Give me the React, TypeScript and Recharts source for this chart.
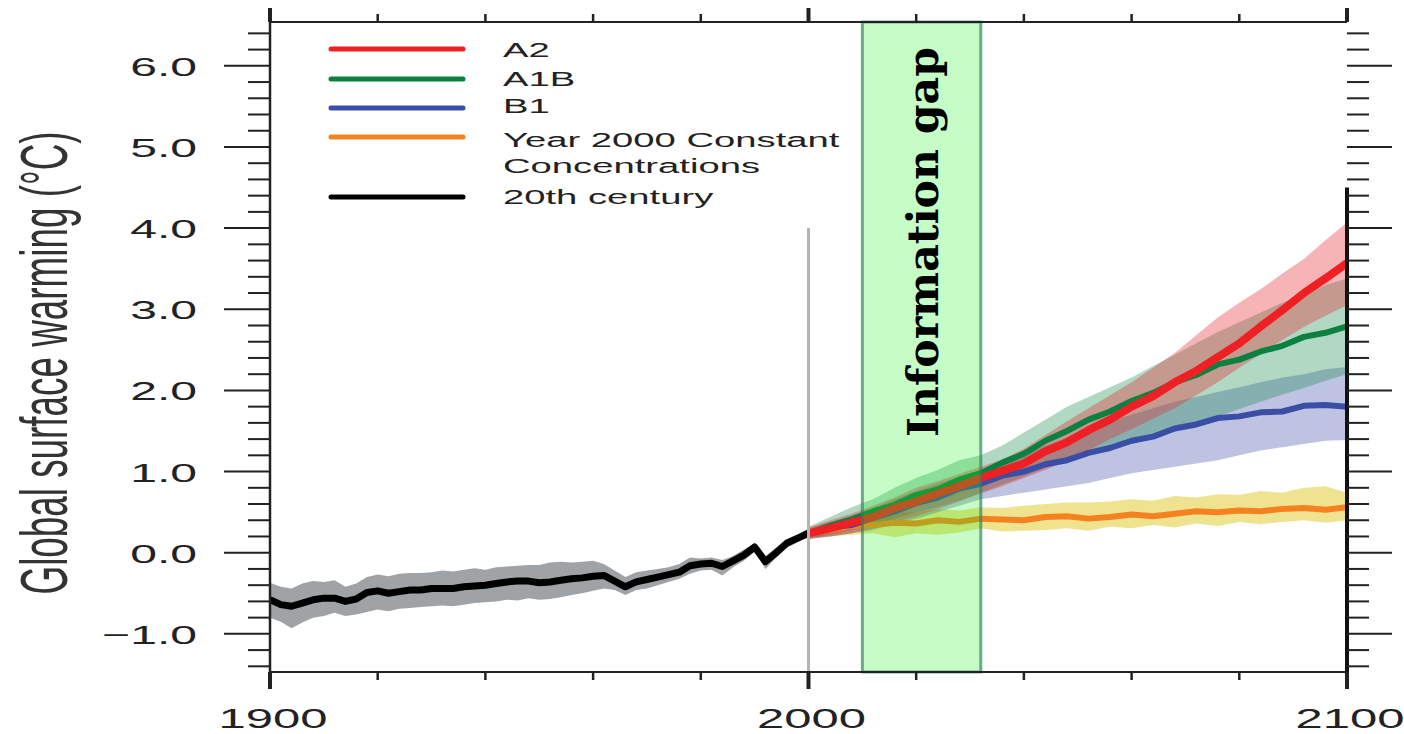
import React from "react";
import {
  ComposedChart,
  Area,
  Line,
  XAxis,
  YAxis,
  ReferenceArea,
  ReferenceLine,
  Legend,
} from "recharts";

// 20th century (observed) – every 2 years
const histYears = [
  1900, 1902, 1904, 1906, 1908, 1910, 1912, 1914, 1916, 1918,
  1920, 1922, 1924, 1926, 1928, 1930, 1932, 1934, 1936, 1938,
  1940, 1942, 1944, 1946, 1948, 1950, 1952, 1954, 1956, 1958,
  1960, 1962, 1964, 1966, 1968, 1970, 1972, 1974, 1976, 1978,
  1980, 1982, 1984, 1986, 1988, 1990, 1992, 1994, 1996, 1998,
  2000,
];
const histMean = [
  -0.58, -0.64, -0.66, -0.62, -0.58, -0.56, -0.56, -0.6, -0.57, -0.49,
  -0.47, -0.5, -0.48, -0.46, -0.46, -0.44, -0.44, -0.44, -0.42, -0.41,
  -0.4, -0.38, -0.36, -0.35, -0.35, -0.37, -0.36, -0.34, -0.32, -0.31,
  -0.29, -0.28, -0.35, -0.42, -0.36, -0.33, -0.3, -0.27, -0.24, -0.16,
  -0.14, -0.13, -0.17, -0.1, -0.03, 0.07, -0.11, 0.0, 0.12, 0.18,
  0.24,
];
const histHigh = [
  -0.37, -0.42, -0.44, -0.38, -0.35, -0.36, -0.34, -0.42, -0.38, -0.3,
  -0.27, -0.29, -0.26, -0.25, -0.25, -0.24, -0.22, -0.23, -0.21, -0.19,
  -0.21, -0.18, -0.17, -0.16, -0.15, -0.15, -0.12, -0.11, -0.12, -0.11,
  -0.1, -0.14, -0.22, -0.3, -0.24, -0.22, -0.2, -0.18, -0.14, -0.06,
  -0.07, -0.06, -0.09, -0.04, 0.04, 0.12, -0.04, 0.06, 0.16, 0.22,
  0.3,
];
const histLow = [
  -0.8, -0.85, -0.93, -0.86, -0.8, -0.78, -0.74, -0.78, -0.76, -0.73,
  -0.7, -0.72, -0.69, -0.68, -0.67, -0.66, -0.65, -0.66, -0.64, -0.62,
  -0.61, -0.6, -0.58, -0.59, -0.56, -0.58, -0.57, -0.55, -0.52, -0.5,
  -0.47, -0.44, -0.46, -0.52, -0.46, -0.44, -0.4, -0.36, -0.32, -0.26,
  -0.22, -0.21, -0.28, -0.18, -0.1, 0.01, -0.2, -0.06, 0.06, 0.13,
  0.19,
];

// scenario projections – every 4 years
const projYears = [
  2000, 2004, 2008, 2012, 2016, 2020, 2024, 2028, 2032, 2036, 2040, 2044, 2048,
  2052, 2056, 2060, 2064, 2068, 2072, 2076, 2080, 2084, 2088, 2092, 2096, 2100,
];
const a2Mean = [
  0.24, 0.3, 0.37, 0.44, 0.55, 0.63, 0.73, 0.82, 0.92, 1.01, 1.1, 1.25, 1.36,
  1.51, 1.64, 1.8, 1.93, 2.1, 2.24, 2.41, 2.58, 2.79, 2.99, 3.2, 3.38, 3.57,
];
const a2Low = [
  0.17, 0.2, 0.24, 0.3, 0.38, 0.45, 0.54, 0.63, 0.73, 0.82, 0.92, 1.02, 1.13,
  1.26, 1.4, 1.52, 1.65, 1.78, 1.94, 2.1, 2.28, 2.45, 2.62, 2.78, 2.92, 3.05,
];
const a2High = [
  0.31, 0.4, 0.48, 0.58, 0.68, 0.8, 0.88, 0.97, 1.06, 1.15, 1.28, 1.45, 1.62,
  1.78, 1.94, 2.1, 2.28, 2.46, 2.68, 2.9, 3.08, 3.25, 3.44, 3.62, 3.85, 4.07,
];
const a1bMean = [
  0.24, 0.33, 0.41, 0.51, 0.59, 0.71, 0.78, 0.9, 0.98, 1.11, 1.22, 1.38, 1.5,
  1.64, 1.74, 1.87, 1.97, 2.1, 2.19, 2.32, 2.38, 2.48, 2.55, 2.66, 2.71, 2.79,
];
const a1bLow = [
  0.17, 0.22, 0.28, 0.34, 0.42, 0.5, 0.56, 0.64, 0.74, 0.84, 0.94, 1.04, 1.14,
  1.2, 1.27, 1.34, 1.42, 1.5, 1.58, 1.68, 1.77, 1.86, 1.95, 2.03, 2.12, 2.2,
];
const a1bHigh = [
  0.32, 0.44, 0.56, 0.66, 0.8, 0.92, 1.02, 1.14, 1.2, 1.32, 1.48, 1.64, 1.8,
  1.92, 2.04, 2.16, 2.3, 2.44, 2.58, 2.72, 2.84, 2.96, 3.08, 3.18, 3.3, 3.38,
];
const b1Mean = [
  0.24, 0.31, 0.34, 0.43, 0.51, 0.61, 0.68, 0.79, 0.85, 0.95, 1.0, 1.09, 1.14,
  1.23, 1.29, 1.38, 1.43, 1.53, 1.58, 1.66, 1.68, 1.73, 1.74, 1.81, 1.82, 1.8,
];
const b1Low = [
  0.17, 0.2, 0.24, 0.28, 0.36, 0.42, 0.5, 0.58, 0.66, 0.7, 0.74, 0.78, 0.82,
  0.86, 0.92, 0.98, 1.02, 1.06, 1.1, 1.14, 1.2, 1.26, 1.3, 1.34, 1.38, 1.39,
];
const b1High = [
  0.3, 0.38, 0.46, 0.55, 0.66, 0.76, 0.85, 0.94, 1.02, 1.12, 1.22, 1.32, 1.42,
  1.52, 1.62, 1.7, 1.78, 1.86, 1.92, 1.98, 2.04, 2.1, 2.16, 2.2, 2.26, 2.29,
];
const constMean = [
  0.24, 0.28, 0.33, 0.34, 0.37, 0.36, 0.4, 0.38, 0.42, 0.41, 0.4, 0.44, 0.45,
  0.42, 0.44, 0.47, 0.45, 0.48, 0.51, 0.5, 0.52, 0.51, 0.54, 0.55, 0.53, 0.56,
];
const constLow = [
  0.19, 0.2, 0.22, 0.24, 0.19, 0.24, 0.22, 0.25, 0.3, 0.26, 0.27, 0.28, 0.3,
  0.27, 0.32, 0.3, 0.34, 0.31, 0.36, 0.33, 0.38, 0.35, 0.38, 0.4, 0.37, 0.4,
];
const constHigh = [
  0.28, 0.38, 0.44, 0.46, 0.5, 0.5, 0.54, 0.52, 0.56, 0.55, 0.58, 0.6, 0.62,
  0.62, 0.63, 0.66, 0.64, 0.7, 0.68, 0.72, 0.71, 0.76, 0.74, 0.8, 0.82, 0.74,
];

const xTicks = [1900, 1920, 1940, 1960, 1980, 2000, 2020, 2040, 2060, 2080, 2100];
const xLabelled = [1900, 2000, 2100];
const yTicks = [
  -1.4, -1.2, -1, -0.8, -0.6, -0.4, -0.2, 0, 0.2, 0.4, 0.6, 0.8, 1, 1.2, 1.4,
  1.6, 1.8, 2, 2.2, 2.4, 2.6, 2.8, 3, 3.2, 3.4, 3.6, 3.8, 4, 4.2, 4.4, 4.6,
  4.8, 5, 5.2, 5.4, 5.6, 5.8, 6, 6.2, 6.4,
];
const yDomain = [-1.47, 6.54];
const gapYears = [2010, 2032];

const legendLabels = [
  ["A2"],
  ["A1B"],
  ["B1"],
  ["Year 2000 Constant", "Concentrations"],
  ["20th century"],
];

const SANS = '"Liberation Sans", Arial, Helvetica, sans-serif';
const INK = "#222";
const C_A2 = "#ee2024";
const C_A1B = "#0c8040";
const C_B1 = "#3a4ea6";
const C_CONST = "#f58220";
const legendColors = [C_A2, C_A1B, C_B1, C_CONST, "#000"];

type Row = { year: number; [k: string]: number | [number, number] };

function buildRows(): Row[] {
  const rows = new Map<number, Row>();
  const get = (y: number) => {
    if (!rows.has(y)) rows.set(y, { year: y });
    return rows.get(y)!;
  };
  histYears.forEach((y, i) => {
    const r = get(y);
    r.hist = histMean[i];
    r.histBand = [histLow[i], histHigh[i]];
  });
  projYears.forEach((y, i) => {
    const r = get(y);
    r.a2 = a2Mean[i];
    r.a2Band = [a2Low[i], a2High[i]];
    r.a1b = a1bMean[i];
    r.a1bBand = [a1bLow[i], a1bHigh[i]];
    r.b1 = b1Mean[i];
    r.b1Band = [b1Low[i], b1High[i]];
    r.cst = constMean[i];
    r.cstBand = [constLow[i], constHigh[i]];
  });
  return Array.from(rows.values()).sort((a, b) => a.year - b.year);
}

const data = buildRows();

// the original image is stretched sideways, so text is scaled in x
function Stretched({ x, y, text, size, sx, anchor = "start" }: {
  x: number; y: number; text: string; size: number; sx: number; anchor?: "start" | "middle" | "end";
}) {
  return (
    <text
      transform={`translate(${x},${y}) scale(${sx},1)`}
      fontSize={size}
      fontFamily={SANS}
      fill={INK}
      textAnchor={anchor}
    >
      {text}
    </text>
  );
}

const isInt = (v: number) => Math.abs(v - Math.round(v)) < 1e-6;
const fmtY = (v: number) => (v < 0 ? "\u2212" + Math.abs(v).toFixed(1) : v.toFixed(1));

function renderBottomTick(props: any) {
  const { x, y, payload } = props;
  const major = xLabelled.includes(payload.value);
  return (
    <g>
      <line x1={x} x2={x} y1={y} y2={y + (major ? 17 : 8)} stroke={INK} strokeWidth={major ? 4 : 2.5} />
      {major && <Stretched x={x + 3} y={y + 56} text={String(payload.value)} size={28} sx={1.75} anchor="middle" />}
    </g>
  );
}

function renderTopTick(props: any) {
  const { x, y, payload } = props;
  const major = xLabelled.includes(payload.value);
  return <line x1={x} x2={x} y1={y} y2={y - (major ? 14 : 8)} stroke={INK} strokeWidth={major ? 4 : 2.5} />;
}

function renderLeftTick(props: any) {
  const { x, y, payload } = props;
  const major = isInt(payload.value);
  return (
    <g>
      <line x1={x - (major ? 46 : 22)} x2={x} y1={y} y2={y} stroke={INK} strokeWidth={2} />
      {major && <Stretched x={x - 73} y={y + 10} text={fmtY(payload.value)} size={26} sx={1.85} anchor="end" />}
    </g>
  );
}

function renderRightTick(props: any) {
  const { x, y, payload } = props;
  const major = isInt(payload.value);
  return <line x1={x} x2={x + (major ? 45 : 22)} y1={y} y2={y} stroke={INK} strokeWidth={2} />;
}

function renderYTitle() {
  return (
    <text
      transform="translate(67,363) scale(1.86,1) rotate(-90)"
      fontSize={36}
      fontFamily={SANS}
      fill="#333"
      textAnchor="middle"
      textLength={463}
      lengthAdjust="spacingAndGlyphs"
    >
      Global surface warming (°C)
    </text>
  );
}

function renderGapLabel(props: any) {
  const vb = props.viewBox;
  const cx = vb.x + vb.width / 2;
  return (
    <text
      transform={`translate(${cx + 16},${vb.y + 220}) rotate(-90)`}
      textAnchor="middle"
      fontFamily='"DejaVu Serif", "Liberation Serif", serif'
      fontWeight="bold"
      fontSize={42}
      textLength={390}
      lengthAdjust="spacingAndGlyphs"
      fill="#000"
    >
      Information gap
    </text>
  );
}

function LegendBox() {
  const lineYs = [49, 79, 108, 137, 197];
  const textYs = [[57], [86], [113], [147, 173], [204]];
  return (
    <svg width={900} height={220} style={{ display: "block" }}>
      {legendLabels.map((lines, i) => (
        <g key={i}>
          <line x1={331} x2={463} y1={lineYs[i]} y2={lineYs[i]} stroke={legendColors[i]} strokeWidth={5} strokeLinecap="round" />
          {lines.map((t, j) => (
            <Stretched key={j} x={503} y={textYs[i][j]} text={t} size={21} sx={1.82} />
          ))}
        </g>
      ))}
    </svg>
  );
}

export default function App() {
  return (
    <div style={{ position: "absolute", left: 0, top: 0, width: 1404, height: 734, background: "#fff" }}>
      <ComposedChart
        width={1404}
        height={734}
        data={data}
        margin={{ top: 8, right: 7, bottom: 12, left: 70 }}
      >
        <XAxis
          dataKey="year"
          type="number"
          domain={[1900, 2100]}
          allowDataOverflow
          ticks={xTicks}
          interval={0}
          height={50}
          tickSize={0}
          tickMargin={0}
          tickLine={false}
          axisLine={{ stroke: INK, strokeWidth: 2 }}
          tick={renderBottomTick}
        />
        <XAxis
          xAxisId="top"
          orientation="top"
          dataKey="year"
          type="number"
          domain={[1900, 2100]}
          allowDataOverflow
          ticks={xTicks}
          interval={0}
          height={14}
          tickSize={0}
          tickMargin={0}
          tickLine={false}
          axisLine={{ stroke: INK, strokeWidth: 2 }}
          tick={renderTopTick}
        />
        <YAxis
          type="number"
          domain={yDomain}
          allowDataOverflow
          ticks={yTicks}
          interval={0}
          width={200}
          tickSize={0}
          tickMargin={0}
          tickLine={false}
          axisLine={{ stroke: INK, strokeWidth: 2.5 }}
          tick={renderLeftTick}
          label={renderYTitle}
        />
        <YAxis
          yAxisId="right"
          orientation="right"
          type="number"
          domain={yDomain}
          allowDataOverflow
          ticks={yTicks}
          interval={0}
          width={50}
          tickSize={0}
          tickMargin={0}
          tickLine={false}
          axisLine={false}
          tick={renderRightTick}
        />

        <Area dataKey="histBand" type="linear" stroke="none" fill="#a0a3a6" fillOpacity={1} isAnimationActive={false} />
        <Area dataKey="cstBand" type="linear" stroke="none" fill="#e0c820" fillOpacity={0.5} isAnimationActive={false} />
        <Area dataKey="b1Band" type="linear" stroke="none" fill="#3a4aa6" fillOpacity={0.33} isAnimationActive={false} />
        <Area dataKey="a1bBand" type="linear" stroke="none" fill="#118a48" fillOpacity={0.33} isAnimationActive={false} />
        <Area dataKey="a2Band" type="linear" stroke="none" fill="#e8282e" fillOpacity={0.35} isAnimationActive={false} />

        <Line dataKey="hist" type="linear" stroke="#000" strokeWidth={7} dot={false} strokeLinejoin="round" isAnimationActive={false} />
        <Line dataKey="cst" type="linear" stroke={C_CONST} strokeWidth={6} dot={false} strokeLinejoin="round" isAnimationActive={false} />
        <Line dataKey="b1" type="linear" stroke={C_B1} strokeWidth={6} dot={false} strokeLinejoin="round" isAnimationActive={false} />
        <Line dataKey="a1b" type="linear" stroke={C_A1B} strokeWidth={6} dot={false} strokeLinejoin="round" isAnimationActive={false} />
        <Line dataKey="a2" type="linear" stroke={C_A2} strokeWidth={8} dot={false} strokeLinejoin="round" isAnimationActive={false} />

        <ReferenceLine
          segment={[{ x: 2000, y: 4 }, { x: 2000, y: yDomain[0] }]}
          stroke="#b4b4b4"
          strokeWidth={3}
          zIndex={420}
        />
        <ReferenceLine
          segment={[{ x: 2100, y: 4.5 }, { x: 2100, y: yDomain[0] }]}
          stroke="#111"
          strokeWidth={4}
          zIndex={420}
        />
        <ReferenceArea
          x1={gapYears[0]}
          x2={gapYears[1]}
          fill="#1cf41c"
          fillOpacity={0.25}
          stroke="#2e7d5b"
          strokeOpacity={0.65}
          strokeWidth={3}
          label={renderGapLabel}
          zIndex={450}
        />

        <Legend
          layout="horizontal"
          verticalAlign="middle"
          align="center"
          wrapperStyle={{ left: 0, top: 0, width: 900, height: 220, pointerEvents: "none" }}
          content={() => <LegendBox />}
        />
      </ComposedChart>
    </div>
  );
}
